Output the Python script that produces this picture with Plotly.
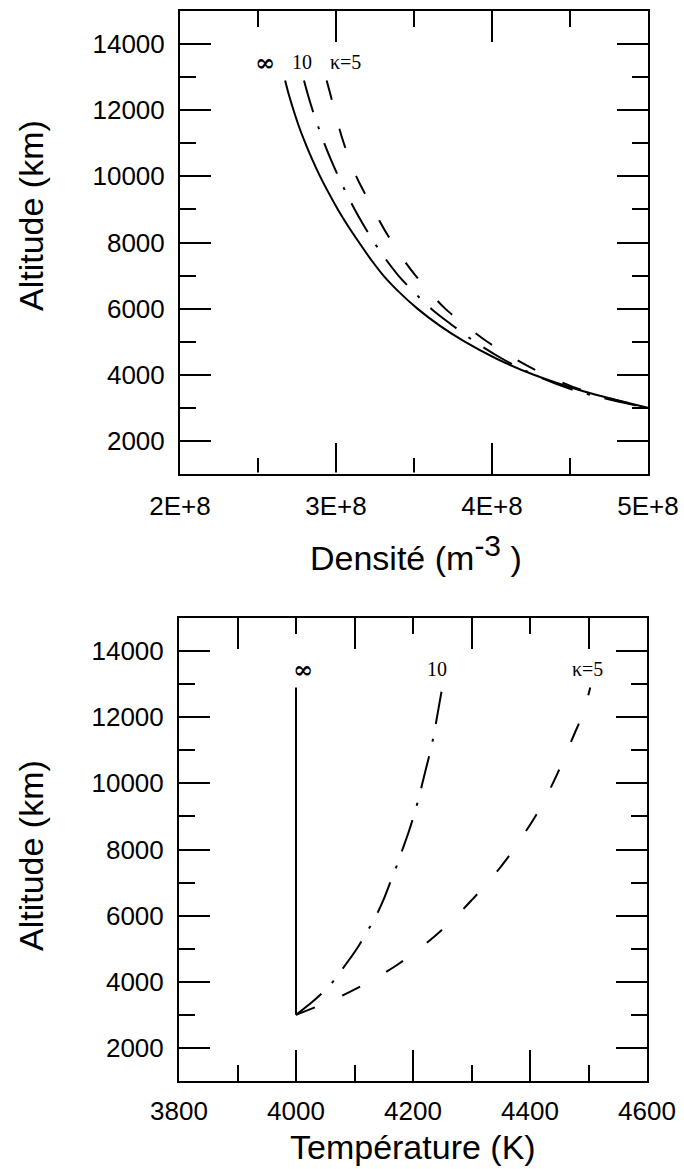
import plotly.graph_objects as go

# ---------------- data ----------------
altitude_km = [3000, 3500, 4000, 4500, 5000, 5500, 6000, 6500, 7000, 7500, 8000, 8500, 9000, 9500,
               10000, 10500, 11000, 11500, 12000, 12500, 12900]

density_kinf = [5.00e8, 4.586e8, 4.268e8, 4.023e8, 3.825e8, 3.66e8, 3.522e8, 3.405e8, 3.304e8, 3.222e8,
                3.148e8, 3.077e8, 3.012e8, 2.953e8, 2.898e8, 2.849e8, 2.804e8, 2.763e8, 2.728e8, 2.696e8, 2.674e8]
density_k10 = [5.00e8, 4.55e8, 4.27e8, 4.06e8, 3.89e8, 3.745e8, 3.61e8, 3.50e8, 3.40e8, 3.318e8,
               3.245e8, 3.18e8, 3.12e8, 3.065e8, 3.015e8, 2.968e8, 2.925e8, 2.886e8, 2.85e8, 2.818e8, 2.795e8]
density_k5 = [5.00e8, 4.60e8, 4.34e8, 4.14e8, 3.97e8, 3.83e8, 3.70e8, 3.60e8, 3.51e8, 3.43e8,
              3.36e8, 3.297e8, 3.24e8, 3.183e8, 3.13e8, 3.088e8, 3.05e8, 3.018e8, 2.99e8, 2.963e8, 2.94e8]

temp_kinf = [4000, 4000, 4000, 4000, 4000, 4000, 4000, 4000, 4000, 4000, 4000, 4000, 4000, 4000,
             4000, 4000, 4000, 4000, 4000, 4000, 4000]
temp_k10 = [4000, 4035, 4063, 4084, 4104, 4121, 4137, 4150, 4161, 4172, 4182, 4192, 4201, 4209,
            4216, 4223, 4230, 4236, 4241, 4246, 4250]
temp_k5 = [4000, 4069, 4125, 4172, 4211, 4245, 4275, 4302, 4328, 4351, 4372, 4391, 4409, 4425,
           4439, 4452, 4464, 4476, 4488, 4497, 4503]

curve_labels = ["∞", "10", "κ=5"]
label_density = [2.545e8, 2.78e8, 3.06e8]
label_temp = [4012, 4241, 4499]
label_alt = 13450

alt_major = [2000, 4000, 6000, 8000, 10000, 12000, 14000]
alt_minor = [3000, 5000, 7000, 9000, 11000, 13000]
dens_major = [2e8, 3e8, 4e8, 5e8]
dens_major_text = ["2E+8", "3E+8", "4E+8", "5E+8"]
dens_minor = [2.5e8, 3.5e8, 4.5e8]
temp_major = [3800, 4000, 4200, 4400, 4600]
temp_minor = [3900, 4100, 4300, 4500]
temp_top_major = [3900, 4100, 4300, 4500]
temp_top_minor = [4000, 4200, 4400]

# ---------------- figure ----------------
W, H = 684, 1169
SANS = "Liberation Sans, Arial, Helvetica, sans-serif"
SERIF = "Liberation Serif, Times New Roman, serif"
tick_font = dict(family=SANS, size=26, color="black")

fig = go.Figure()
line_w = 2
dash_k10 = "33px,15px,3px,15px"
dash_k5 = "20px,30px"

# top panel: density (drawn from top to bottom)
rev = slice(None, None, -1)
fig.add_trace(go.Scatter(x=density_kinf[rev], y=altitude_km[rev], mode="lines",
                         line=dict(color="black", width=line_w, shape="spline"),
                         xaxis="x", yaxis="y", showlegend=False, hoverinfo="skip"))
fig.add_trace(go.Scatter(x=density_k10[rev], y=altitude_km[rev], mode="lines",
                         line=dict(color="black", width=line_w, dash=dash_k10, shape="spline"),
                         xaxis="x", yaxis="y", showlegend=False, hoverinfo="skip"))
fig.add_trace(go.Scatter(x=density_k5[rev], y=altitude_km[rev], mode="lines",
                         line=dict(color="black", width=line_w, dash=dash_k5, shape="spline"),
                         xaxis="x", yaxis="y", showlegend=False, hoverinfo="skip"))

# bottom panel: temperature (drawn from bottom to top)
fig.add_trace(go.Scatter(x=temp_kinf, y=altitude_km, mode="lines",
                         line=dict(color="black", width=line_w),
                         xaxis="x3", yaxis="y2", showlegend=False, hoverinfo="skip"))
fig.add_trace(go.Scatter(x=temp_k10, y=altitude_km, mode="lines",
                         line=dict(color="black", width=line_w, dash=dash_k10, shape="spline"),
                         xaxis="x2", yaxis="y2", showlegend=False, hoverinfo="skip"))
fig.add_trace(go.Scatter(x=temp_k5, y=altitude_km, mode="lines",
                         line=dict(color="black", width=line_w, dash=dash_k5, shape="spline"),
                         xaxis="x2", yaxis="y2", showlegend=False, hoverinfo="skip"))

def px_x(p):
    return p / W

def px_y(p):
    return 1 - p / H

common = dict(showline=True, linewidth=2, linecolor="black", ticks="inside", ticklen=31,
              tickwidth=2, tickcolor="black", showgrid=False, zeroline=False, tickfont=tick_font,
              automargin=False)

def minor(vals):
    return dict(tickmode="array", tickvals=vals, ticks="inside", ticklen=16, tickwidth=2,
                tickcolor="black", showgrid=False)

fig.update_layout(
    width=W, height=H,
    margin=dict(l=0, r=0, t=0, b=0, autoexpand=False),
    paper_bgcolor="white", plot_bgcolor="white",
    showlegend=False,
    xaxis=dict(domain=[px_x(180), px_x(648)], anchor="y", range=[2e8, 5e8],
               tickmode="array", tickvals=dens_major, ticktext=dens_major_text,
               minor=minor(dens_minor), mirror="ticks", ticklabelstandoff=8, **common),
    yaxis=dict(domain=[px_y(474), px_y(11)], anchor="x", range=[1000, 15000],
               tickmode="array", tickvals=alt_major, ticktext=[str(v) for v in alt_major],
               minor=minor(alt_minor), mirror="ticks", ticklabelstandoff=8, **common),
    xaxis2=dict(domain=[px_x(179), px_x(647)], anchor="y2", range=[3800, 4600],
                tickmode="array", tickvals=temp_major, ticktext=[str(v) for v in temp_major],
                minor=minor(temp_minor), mirror=False, ticklabelstandoff=6, **common),
    xaxis3=dict(domain=[px_x(179), px_x(647)], anchor="y2", overlaying="x2", side="top",
                range=[3800, 4600], tickmode="array", tickvals=temp_top_major,
                showticklabels=False, minor=minor(temp_top_minor), **common),
    yaxis2=dict(domain=[px_y(1081), px_y(618)], anchor="x2", range=[1000, 15000],
                tickmode="array", tickvals=alt_major, ticktext=[str(v) for v in alt_major],
                minor=minor(alt_minor), mirror="ticks", ticklabelstandoff=8, **common),
)

# curve labels
for txt, xd, xt in zip(curve_labels, label_density, label_temp):
    if txt == "∞":
        f = dict(family="DejaVu Serif, serif", size=24, color="black", weight="bold")
    else:
        f = dict(family=SERIF, size=20, color="black")
    fig.add_annotation(x=xd, y=label_alt, xref="x", yref="y", text=txt, showarrow=False,
                       xanchor="center", yanchor="middle", font=f)
    fig.add_annotation(x=xt, y=label_alt, xref="x2", yref="y2", text=txt, showarrow=False,
                       xanchor="center", yanchor="middle", font=f)

title_font = dict(family=SANS, size=34, color="black")
ann = dict(xref="paper", yref="paper", showarrow=False, xanchor="center", yanchor="middle",
           font=title_font)
fig.add_annotation(x=px_x(31), y=px_y(216), text="Altitude (km)", textangle=-90, **ann)
fig.add_annotation(x=px_x(31), y=px_y(856), text="Altitude (km)", textangle=-90, **ann)
fig.add_annotation(x=px_x(416), y=px_y(553),
                   text="Densité (m<sup><span style='font-size:30px'>-3</span></sup> )", **ann)
fig.add_annotation(x=px_x(413), y=px_y(1147), text="Température (K)", **ann)

# faded part of the bottom frame line of the upper panel (as in the scan)
fig.add_shape(type="line", xref="x", yref="y", x0=2e8, x1=3.65e8, y0=1000, y1=1000,
              line=dict(color="white", width=3), layer="above")

fig.write_html("out.html")
